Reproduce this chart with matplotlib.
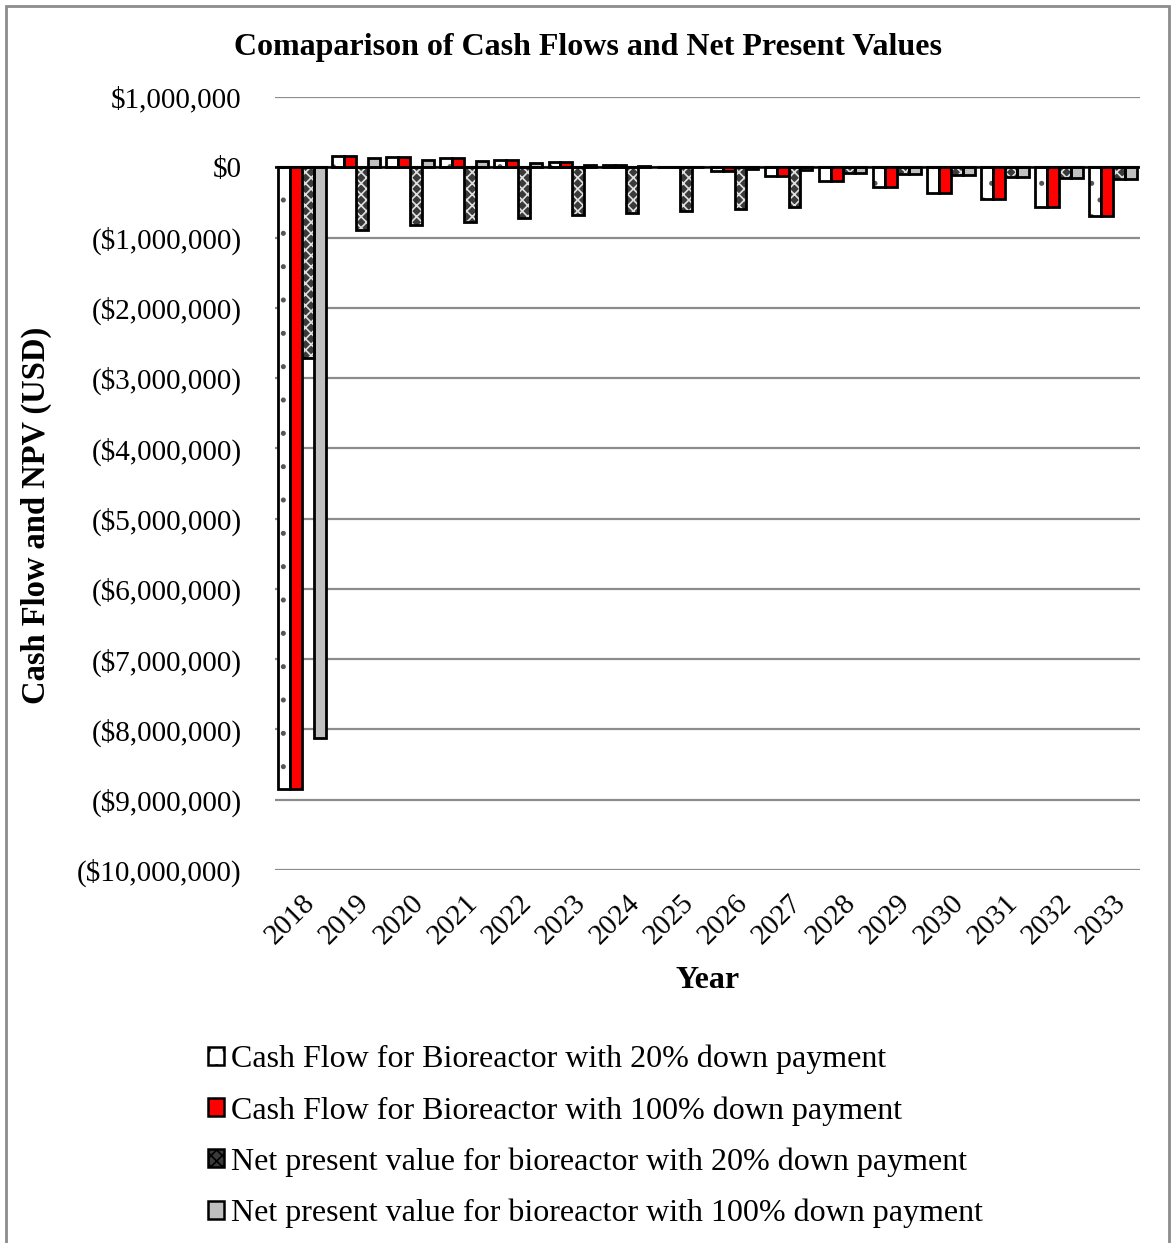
import matplotlib
matplotlib.use("Agg")
import matplotlib.pyplot as plt
import numpy as np
from matplotlib.patches import Rectangle, Patch
from matplotlib.ticker import FuncFormatter

years = ["2018", "2019", "2020", "2021", "2022", "2023", "2024", "2025",
         "2026", "2027", "2028", "2029", "2030", "2031", "2032", "2033"]
cf_20 = [-8850000, 160000, 147000, 128000, 104000, 75000, 38000, 10000,
         -60000, -125000, -195000, -275000, -360000, -455000, -565000, -690000]
cf_100 = [-8850000, 160000, 147000, 128000, 104000, 75000, 38000, 10000,
          -50000, -120000, -195000, -275000, -360000, -455000, -565000, -690000]
npv_20 = [-2720000, -890000, -825000, -775000, -720000, -680000, -650000, -620000,
          -590000, -570000, -75000, -95000, -115000, -135000, -155000, -170000]
npv_100 = [-8120000, 132000, 110000, 85000, 61000, 38000, 18000, 3000,
           -30000, -45000, -75000, -95000, -115000, -135000, -155000, -170000]
labels = ["Cash Flow for Bioreactor with 20% down payment",
          "Cash Flow for Bioreactor with 100% down payment",
          "Net present value for bioreactor with 20% down payment",
          "Net present value for bioreactor with 100% down payment"]

serif = ["Liberation Serif", "DejaVu Serif"]
plt.rcParams["font.family"] = serif
plt.rcParams["hatch.linewidth"] = 1.2

fig = plt.figure(figsize=(11.71, 12.43), dpi=100)
ax = fig.add_axes([275/1171, 1-870/1243, (1140-275)/1171, (870-97)/1243])

x = np.arange(len(years))
w = 0.22
offs = [-1.5*w, -0.5*w, 0.5*w, 1.5*w]

# white with dots
ax.bar(x+offs[0], cf_20, w, color="white", edgecolor="#555555", hatch=".", linewidth=0, zorder=3)
ax.bar(x+offs[0], cf_20, w, fill=False, edgecolor="black", linewidth=2, zorder=4)
# red
ax.bar(x+offs[1], cf_100, w, color="#ff0000", edgecolor="black", linewidth=2, zorder=3)
# dark patterned
ax.bar(x+offs[2], npv_20, w, color="#3a3a3a", edgecolor="#e0e0e0", hatch="xxx", linewidth=0, zorder=3)
ax.bar(x+offs[2], npv_20, w, fill=False, edgecolor="black", linewidth=2, zorder=4)
# grey
ax.bar(x+offs[3], npv_100, w, color="#c0c0c0", edgecolor="black", linewidth=2, zorder=3)

ax.set_xlim(-0.5, len(years)-0.5)
ax.set_ylim(-10000000, 1000000)
ax.set_yticks(np.arange(-10000000, 1000001, 1000000))

def fmt(v, pos):
    v = int(round(v))
    if v == 0:
        return "$0"
    if v < 0:
        return "(${:,})".format(-v)
    return "${:,}".format(v)
ax.yaxis.set_major_formatter(FuncFormatter(fmt))
ax.grid(axis="y", color="#8c8c8c", linewidth=1.6, zorder=0)
ax.axhline(0, color="black", linewidth=1.8, zorder=5)
for s in ["top", "right", "left", "bottom"]:
    ax.spines[s].set_visible(False)
ax.tick_params(axis="y", length=0, labelsize=21, pad=24)
ax.tick_params(axis="x", length=0, labelsize=21, pad=14)
ax.set_xticks(x)
ax.set_xticklabels(years, rotation=45, ha="right", va="top", rotation_mode="anchor")

fig.text(36/1171, 1-515/1243, "Cash Flow and NPV (USD)", rotation=90,
         ha="center", va="center", fontsize=23.5, fontweight="bold")
fig.text(708/1171, 1-981/1243, "Year", ha="center", va="center",
         fontsize=23, fontweight="bold")
fig.text(588/1171, 1-48/1243, "Comaparison of Cash Flows and Net Present Values",
         ha="center", va="center", fontsize=23, fontweight="bold")

handles = [Patch(facecolor="white", edgecolor="black", hatch=".", linewidth=1.8),
           Patch(facecolor="#ff0000", edgecolor="black", linewidth=1.8),
           Patch(facecolor="#3a3a3a", edgecolor="black", hatch="xxx", linewidth=1.8),
           Patch(facecolor="#c0c0c0", edgecolor="black", linewidth=1.8)]
leg = fig.legend(handles, labels, loc="upper left", bbox_to_anchor=(195/1171, 1-1032/1243),
                 frameon=False, fontsize=23, handlelength=0.5, handleheight=0.5,
                 handletextpad=0.22, labelspacing=0.68, borderaxespad=0)

fig.patches.append(Rectangle((6/1171, -0.01), (1169-6)/1171, 1.01-6/1243 + 0.0,
                             transform=fig.transFigure, fill=False,
                             edgecolor="#8c8c8c", linewidth=2))
fig.savefig("out.png", dpi=100)
